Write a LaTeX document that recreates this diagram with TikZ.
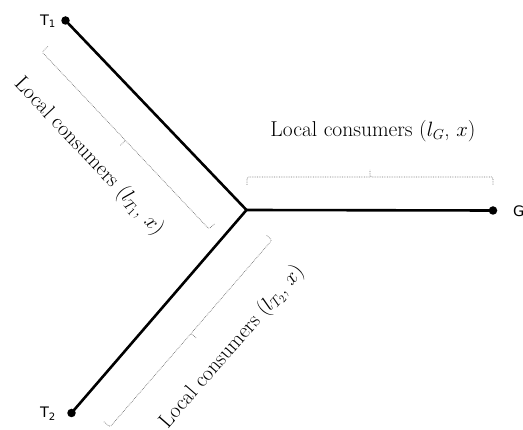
\documentclass[tikz,border=0pt]{standalone}
\usepackage{fontspec}
\newfontfamily\labelfont{DejaVu Sans}
\usetikzlibrary{calc}
\newcommand{\drawbracket}[3]{%
  \coordinate (#3a) at (#1);
  \coordinate (#3b) at (#2);
  \coordinate (#3m) at ($(#3a)!0.5!(#3b)$);
  \draw[bracket] ($(#3a)!8pt!90:(#3b)$) -- (#3a) -- (#3m) -- ($(#3m)!7pt!-90:(#3b)$);
  \draw[bracket] (#3m) -- (#3b) -- ($(#3b)!8pt!-90:(#3a)$);
}
\begin{document}
\begin{tikzpicture}[x=1pt,y=-1pt,
  branch/.style={line width=2.6pt,line join=miter},
  enddot/.style={circle,fill=black,inner sep=0pt,minimum size=8.5pt},
  endlabel/.style={font=\labelfont\fontsize{14.5}{16}\selectfont,inner sep=0pt},
  bracket/.style={black!55,densely dotted,line width=0.7pt,rounded corners=1.5pt},
  seglabel/.style={font=\fontsize{21.5}{24}\selectfont,inner sep=0pt}]
\useasboundingbox (0,0) rectangle (523,430);

\node[enddot] (T1) at (65.5,20.5) {};
\coordinate (C) at (246.5,210);
\node[enddot] (G) at (493,210.5) {};
\node[enddot] (T2) at (71.5,413) {};

\draw[branch] (T1.center) -- (C) -- (T2.center);
\draw[branch] (C) -- (G.center);

\node[endlabel] (T1l) at (48,21) {T\textsubscript{1}};
\node[endlabel] (T2l) at (48,414) {T\textsubscript{2}};
\node[endlabel,anchor=west] (Gl) at (513,211.5) {G};

\drawbracket{42,52}{209,229}{bT}
\drawbracket{493,177}{247,177}{bG}
\drawbracket{110,427}{272,240}{bB}

\node[seglabel] (LG) at (373,131) {Local consumers ($l_G$, $x$)};
\node[seglabel,rotate=-46.7] (LT1) at (89,157) {Local consumers ($l_{T_1}$, $x$)};
\node[seglabel,rotate=49] (LT2) at (232,347) {Local consumers ($l_{T_2}$, $x$)};
\end{tikzpicture}
\end{document}
